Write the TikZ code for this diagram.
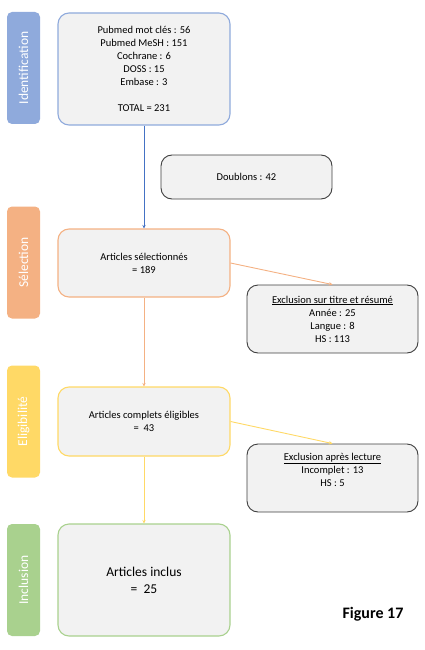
\documentclass[tikz,border=0pt]{standalone}
\usepackage{fontspec}
\setmainfont{Carlito}
\usetikzlibrary{arrows.meta}
\definecolor{idblue}{HTML}{8FAADC}
\definecolor{arrowblue}{HTML}{4472C4}
\definecolor{selorange}{HTML}{F4B183}
\definecolor{eliyellow}{HTML}{FFD966}
\definecolor{incgreen}{HTML}{A9D18E}
\definecolor{boxgray}{HTML}{F2F2F2}
\definecolor{exclgray}{HTML}{3F3F3F}
\begin{document}
\begin{tikzpicture}[x=1pt, y=-1pt, >={Stealth[length=3.5pt, width=3.5pt]},
    phase/.style={rectangle, rounded corners=5pt, rotate=90, minimum width=112pt,
        minimum height=33pt, inner sep=0pt, text=white, font=\fontsize{13.5}{15}\selectfont},
    stepbox/.style={rectangle, rounded corners=11pt, fill=boxgray, line width=1.1pt,
        minimum width=172pt, align=center, inner sep=0pt, font=\fontsize{10.5}{13}\selectfont},
    exclbox/.style={stepbox, draw=exclgray, line width=0.9pt, minimum width=171pt}]
    \useasboundingbox (0,0) rectangle (425,650);

    % Phases
    \node[phase, fill=idblue] (idbar) at (23.5,68) {Identification};
    \node[phase, fill=selorange] (selbar) at (23.5,262.5) {Sélection};
    \node[phase, fill=eliyellow] (elibar) at (23.5,421.5) {Eligibilité};
    \node[phase, fill=incgreen] (incbar) at (23.5,580) {Inclusion};

    % Main steps
    \node[stepbox, draw=idblue, minimum height=112pt] (ident) at (144,69)
        {Pubmed mot clés : 56\\ Pubmed MeSH : 151\\ Cochrane : 6\\ DOSS : 15\\ Embase : 3\\[13pt] TOTAL = 231};
    \node[stepbox, draw=selorange, minimum height=68pt] (select) at (144,263)
        {Articles sélectionnés\\ = 189};
    \node[stepbox, draw=eliyellow, minimum height=69pt] (elig) at (144,421.5)
        {Articles complets éligibles\\ =\ \ 43};
    \node[stepbox, draw=incgreen, minimum height=112pt, font=\fontsize{13.5}{17}\selectfont] (incl) at (144,580)
        {Articles inclus\\ =\ \ 25};

    % Side boxes
    \node[exclbox, minimum height=44pt] (doublons) at (246.5,177) {Doublons : 42};
    \node[exclbox, minimum height=68pt] (excl1) at (332.5,319)
        {\underline{Exclusion sur titre et résumé}\\ Année : 25\\ Langue : 8\\ HS : 113};
    \node[exclbox, minimum height=68pt] (excl2) at (332.5,478)
        {\underline{Exclusion après lecture}\\ Incomplet : 13\\ HS : 5\\ \strut};

    \node[font=\fontsize{16}{18}\selectfont\bfseries] (figlabel) at (373,614) {Figure 17};

    % Arrows
    \draw[->, arrowblue, line width=0.9pt] (ident) -- (select);
    \draw[->, selorange, line width=0.9pt] (select) -- (elig);
    \draw[->, selorange, line width=0.9pt] (select.east) -- (excl1.north);
    \draw[->, eliyellow, line width=0.9pt] (elig) -- (incl);
    \draw[->, eliyellow, line width=0.9pt] (elig.east) -- (excl2.north);
\end{tikzpicture}
\end{document}
